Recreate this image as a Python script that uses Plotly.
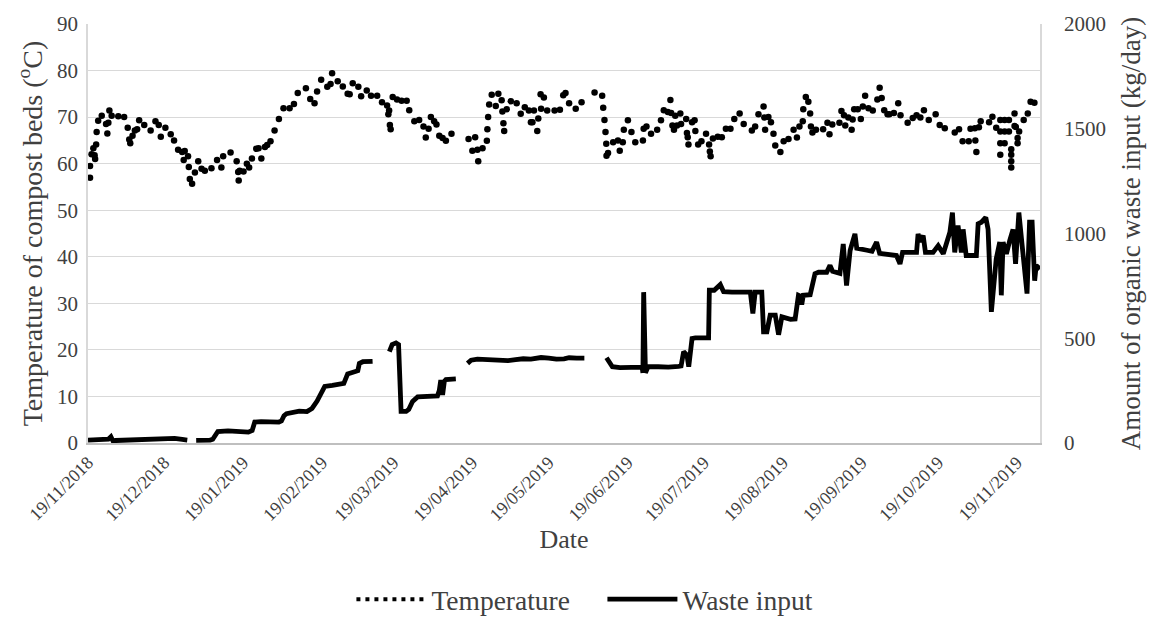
import pandas as pd
import plotly.graph_objects as go

START = pd.Timestamp("2018-11-19")

# Temperature of compost beds (deg C): day offset from 19/11/2018, value
temp_day = [
    0.8, 0.8, 1.4, 2.1, 2.6, 2.8, 3.2, 3.4, 4.0, 5.4, 7.1, 7.6, 8.0, 8.4, 9.3, 11.9, 14.2,
    15.6, 16.2, 16.6, 17.5, 18.4, 19.3, 20.1, 22.1, 24.6, 26.5, 27.8, 28.6, 30.4, 32.5,
    33.8, 35.4, 37.0, 37.6, 38.0, 39.3, 39.6, 40.0, 40.9, 42.0, 43.3, 44.6, 45.9, 48.5,
    50.7, 52.4, 53.1, 56.0, 58.4, 59.0, 59.2, 59.6, 61.1, 62.4,
    63.3, 64.4, 66.1, 67.0, 68.1, 69.5, 70.4, 71.7, 73.3, 75.0, 76.8, 79.2, 80.9, 82.4,
    85.6, 87.3, 89.0, 90.0, 91.6, 94.0, 95.3, 95.9, 98.1, 100.1, 102.0, 102.8, 104.0,
    106.2, 107.3, 109.5, 111.2, 113.6, 115.5, 117.5, 118.0, 118.3, 118.6, 118.9, 119.7,
    121.4, 123.2, 125.2, 126.2,
    128.2, 130.1, 131.8, 132.7, 133.8, 134.7, 136.0, 136.9, 138.0, 139.3, 140.6, 142.8,
    149.5, 151.0, 152.1, 153.0, 153.3, 155.0, 156.7, 156.9, 157.2, 157.6, 158.6, 160.2,
    161.2, 162.5, 162.8, 163.2, 163.5, 164.5, 166.1, 168.4, 170.0, 171.6, 173.2, 174.0,
    174.6, 175.2, 176.5, 176.9, 177.8, 178.0, 179.1, 180.4, 183.3, 185.4, 186.7, 187.6,
    189.0, 191.6, 193.9, 199.0,
    202.0, 202.4, 202.9, 203.3, 203.6, 203.7, 204.3, 206.3, 208.2, 208.9, 210.1, 210.5,
    212.1, 213.5, 215.0, 218.0, 218.3, 219.4, 221.2, 223.6, 225.1, 226.2, 227.8, 228.8,
    229.1, 229.6, 230.2, 230.7, 231.4, 232.7, 233.0, 235.0, 235.3, 235.6, 235.9, 237.3,
    238.3, 238.6, 239.7, 241.0, 242.8, 244.0, 244.3, 244.6, 245.5, 247.4, 249.0, 250.6,
    252.4, 253.9, 256.0, 257.6, 260.8, 262.1, 263.4, 265.4, 265.7, 266.0, 267.3, 268.3,
    269.3, 270.0, 272.0, 273.3, 275.2, 277.2, 278.5, 279.5, 280.8, 281.0, 282.0, 283.0,
    283.7, 284.0, 284.6, 286.0, 288.8, 290.5, 291.3, 292.4, 295.2, 296.0, 297.0, 297.5,
    298.7, 300.0, 300.4, 301.0, 302.4, 303.6, 304.4, 305.3, 306.6, 308.3, 310.1, 311.0,
    311.8, 312.8, 314.1,
    314.8, 316.6, 318.3, 319.2, 322.0, 324.0, 325.5, 327.0, 328.4, 330.3, 333.0, 334.6,
    336.6, 340.5, 342.2, 343.6, 346.0, 346.7, 348.4, 348.6, 349.0, 350.0, 350.7, 354.0,
    355.3, 356.8, 358.4, 358.4, 358.4, 358.4, 360.1, 360.1, 360.1, 361.8, 361.8, 362.7,
    362.7, 362.7, 362.7, 364.0, 364.0, 364.5, 365.2, 365.2, 365.8, 367.6, 369.2, 370.3,
    371.8,
]
temp_val = [
    57.0, 59.5, 62.0, 63.3, 61.8, 61.0, 64.1, 66.8, 69.2, 70.3, 68.5, 66.5, 68.8, 71.4, 70.3, 70.2, 70.0,
    67.7, 65.2, 64.4, 66.0, 67.1, 67.4, 69.3, 68.3, 67.1, 69.1, 68.3, 65.8, 67.7, 66.3,
    65.0, 63.0, 62.5, 60.8, 62.7, 61.6, 59.3, 56.7, 55.7, 58.1, 60.5, 58.9, 58.5, 59.0,
    60.8, 59.2, 61.6, 62.4, 60.5, 58.2, 56.4, 58.5, 58.3, 60.0,
    59.2, 61.1, 63.2, 63.3, 61.1, 63.6, 64.0, 64.8, 67.1, 69.6, 71.9, 71.9, 72.8, 75.2,
    76.2, 73.9, 73.0, 75.5, 78.0, 76.5, 77.1, 79.4, 77.7, 76.6, 75.0, 74.9, 77.3,
    76.5, 74.5, 75.7, 74.6, 74.6, 73.2, 72.5, 70.6, 71.4, 68.3, 67.4, 74.3,
    73.8, 73.5, 73.5, 71.5,
    69.1, 69.4, 68.0, 65.6, 67.5, 70.0, 69.1, 68.4, 66.0, 65.5, 64.9, 66.4,
    65.3, 62.8, 65.7, 63.0, 60.5, 63.3, 64.9, 67.4, 70.0, 72.7, 74.8, 72.4,
    75.0, 73.6, 71.2, 68.7, 67.0, 71.7, 73.4, 73.0, 70.7, 72.1, 71.4, 68.9,
    68.9, 71.4, 67.0, 69.7, 74.9, 71.8, 74.2, 71.4, 71.4, 71.6, 74.7, 75.2,
    73.0, 71.8, 73.2, 75.3,
    74.6, 72.0, 69.4, 66.8, 64.3, 61.7, 62.3, 64.6, 65.0, 62.8, 64.6, 67.3,
    69.3, 66.8, 64.6, 65.0, 67.5, 68.0, 66.4, 67.3, 69.3, 71.5, 71.1, 73.7,
    70.9, 68.2, 67.3, 70.3, 68.2, 70.8, 68.5, 69.6, 66.6, 65.7, 64.1, 68.9,
    69.3, 67.0, 64.1, 64.8, 66.4, 64.1, 62.6, 61.6, 65.4, 65.8, 65.7, 67.5,
    67.5, 69.6, 70.8, 68.5, 67.1, 68.0, 70.6, 72.3, 69.9, 67.3, 70.0, 68.9,
    66.4, 63.9, 62.5, 64.8, 65.3, 67.3, 65.6, 68.0, 69.1, 71.7, 74.3, 73.3,
    70.8, 68.0, 66.7, 67.3, 67.4, 68.8, 66.3, 68.4, 68.8, 71.3, 70.4, 68.2,
    69.9, 67.3, 69.5, 71.7, 71.7, 69.6, 72.3, 74.6, 71.9, 71.4, 73.8, 76.3,
    74.1, 71.5, 70.6,
    70.6, 70.9, 73.0, 70.4, 68.8, 69.8, 70.4, 69.9, 71.5, 69.4, 70.6, 68.3,
    67.6, 66.7, 67.4, 64.8, 64.8, 67.5, 67.6, 65.0, 62.5, 67.8, 69.1, 68.9,
    70.1, 67.7, 69.4, 66.9, 64.4, 61.9, 69.4, 66.9, 64.4, 69.4, 66.9, 63.1,
    61.9, 60.5, 59.2, 68.1, 70.8, 67.9, 65.5, 64.4, 66.9, 69.4, 70.8, 73.3,
    73.1,
]

# Waste input (kg/day): day offset from 19/11/2018, value (None = no data)
waste_day = [
    0, 3, 6, 8, 9, 10, 11, 15, 20, 25, 28, 31, 34, 37, 39, 40.5,
    42.5, 45, 48, 49, 50, 51, 55, 58, 61, 63, 64.5, 65.5, 68, 72, 75, 76, 77, 78, 80, 83,
    86, 88, 90, 92, 93, 96, 99, 100.5, 102, 104, 106, 106.6, 108, 111.8, 114,
    118.4, 119.5, 121, 122, 123, 125, 126, 127.5, 129.5, 132, 135, 137.3, 138, 138.6,
    139.3, 140, 140.6, 142, 144.5, 146,
    149.1, 150.5, 153, 156, 160, 163, 165, 168, 171, 174, 178, 181, 184, 187, 189, 192,
    195, 199,
    203.7, 204.5, 206, 209, 212, 215, 217.7, 218, 218.3, 219, 220, 224, 228, 232, 233,
    234, 235.3, 236, 237.3, 238.6, 241, 243.8, 244.1, 246, 248.4, 249.7, 253, 257,
    260.2, 261.2, 262.1, 264.7, 265.4, 266.7, 268, 270, 271.3, 272.6, 274, 276, 277.8,
    279.1, 280, 280.4, 281, 283.7, 285.6, 287, 290.2, 291.5, 292.5, 295.4, 296.7, 298,
    299.4, 301.3, 302, 304.6, 306, 308, 309.8, 311, 314, 317.6, 319, 320, 325.5, 326.1,
    327, 328.1, 329, 332, 334, 336, 338.6, 339.6, 340.5, 341.8, 343.1, 343.8, 345, 349,
    349.7, 351, 352.7, 353.6, 354.9, 356.8, 358.2, 358.8, 359.5, 360.8, 362.1, 363.4,
    364.4, 365.7, 367, 368.9, 369.9, 370.9, 371.9, 372.5, 374,
]
waste_val = [
    14, 14, 16, 18, 30, 5, 12, 14, 15, 18, 20, 24, 22, 17, 14, None,
    13, 12, 14, 18, 40, 55, 58, 55, 50, 52, 60, 100, 102, 98, 100, 105, 130, 140, 145, 152,
    150, 165, 200, 250, 270, 275, 278, 285, 330, 340, 345, 380, 388, 390, None,
    436, 470, 478, 470, 151, 151, 160, 198, 220, 222, 225, 225, 250, 300,
    230, 295, 303, 305, 306, None,
    380, 395, 400, 398, 397, 395, 393, 398, 402, 400, 408, 405, 400, 402, 407, 405,
    405, None,
    407, 390, 364, 360, 362, 360, 362, 335, 720, 335, 364, 364, 362, 366, 368,
    436, 420, 364, 499, 502, 502, 502, 729, 729, 756, 722, 720, 718,
    720, 618, 720, 720, 531, 531, 610, 610, 517, 602, 595, 590, 592,
    705, 700, 660, 705, 708, 808, 815, 815, 848, 820, 810, 950, 752,
    919, 998, 930, 927, 920, 915, 959, 905, 900, 895, 855, 910, 910, 998,
    960, 990, 910, 910, 942, 903, 1006, 1100, 910, 1038, 910, 1020, 895, 895,
    1046, 1054, 1077, 1020, 626, 879, 959, 705, 959, 903, 966, 1020,
    855, 1100, 942, 713, 1054, 1054, 775, 847, 831,
]

temp_dates = START + pd.to_timedelta(temp_day, unit="D")
waste_dates = START + pd.to_timedelta(waste_day, unit="D")

FONT = "Liberation Serif, Times New Roman, serif"
GRID = "#d9d9d9"
TXT = "#404040"

fig = go.Figure()
fig.add_trace(go.Scatter(
    x=temp_dates, y=temp_val, mode="markers", name="Temperature",
    marker=dict(color="black", size=6.5), showlegend=False,
))
fig.add_trace(go.Scatter(
    x=[None], y=[None], mode="lines", name="Temperature",
    line=dict(color="black", width=4, dash="4px,5px"),
))
fig.add_trace(go.Scatter(
    x=waste_dates, y=waste_val, mode="lines", name="Waste input", yaxis="y2",
    line=dict(color="black", width=4.8), connectgaps=False,
))

fig.update_layout(
    width=1153, height=639,
    margin=dict(l=88, r=111, t=22, b=196),
    paper_bgcolor="white", plot_bgcolor="white",
    font=dict(family=FONT, color=TXT, size=21),
    xaxis=dict(
        type="date", range=[START, START + pd.Timedelta(days=374)],
        tick0="2018-11-19", dtick="M1", tickformat="%d/%m/%Y", tickangle=-45,
        tickfont=dict(size=18), showgrid=False, showline=True,
        linecolor="#bfbfbf", linewidth=2, ticks="", zeroline=False,
        title=dict(text="Date", font=dict(size=26), standoff=6),
    ),
    yaxis=dict(
        range=[0, 90], dtick=10, showgrid=True, gridcolor=GRID, gridwidth=1.3,
        showline=True, linecolor=GRID, linewidth=1.5, zeroline=False, ticks="",
        ticklabelstandoff=4, tickfont=dict(size=21),
        title=dict(text="Temperature of compost beds (<sup>o</sup>C)", font=dict(size=28), standoff=6),
    ),
    yaxis2=dict(
        range=[0, 2000], dtick=500, overlaying="y", side="right", showgrid=False,
        showline=True, linecolor=GRID, linewidth=1.5, zeroline=False, ticks="",
        ticklabelstandoff=18, tickfont=dict(size=21),
        title=dict(text="Amount of organic waste input (kg/day)", font=dict(size=27), standoff=16),
    ),
    legend=dict(
        orientation="h", x=0.2767, xanchor="left", y=-0.373, yanchor="middle",
        font=dict(size=27.5), itemwidth=70, entrywidth=166, traceorder="normal",
    ),
)

fig.write_html("out.html")
